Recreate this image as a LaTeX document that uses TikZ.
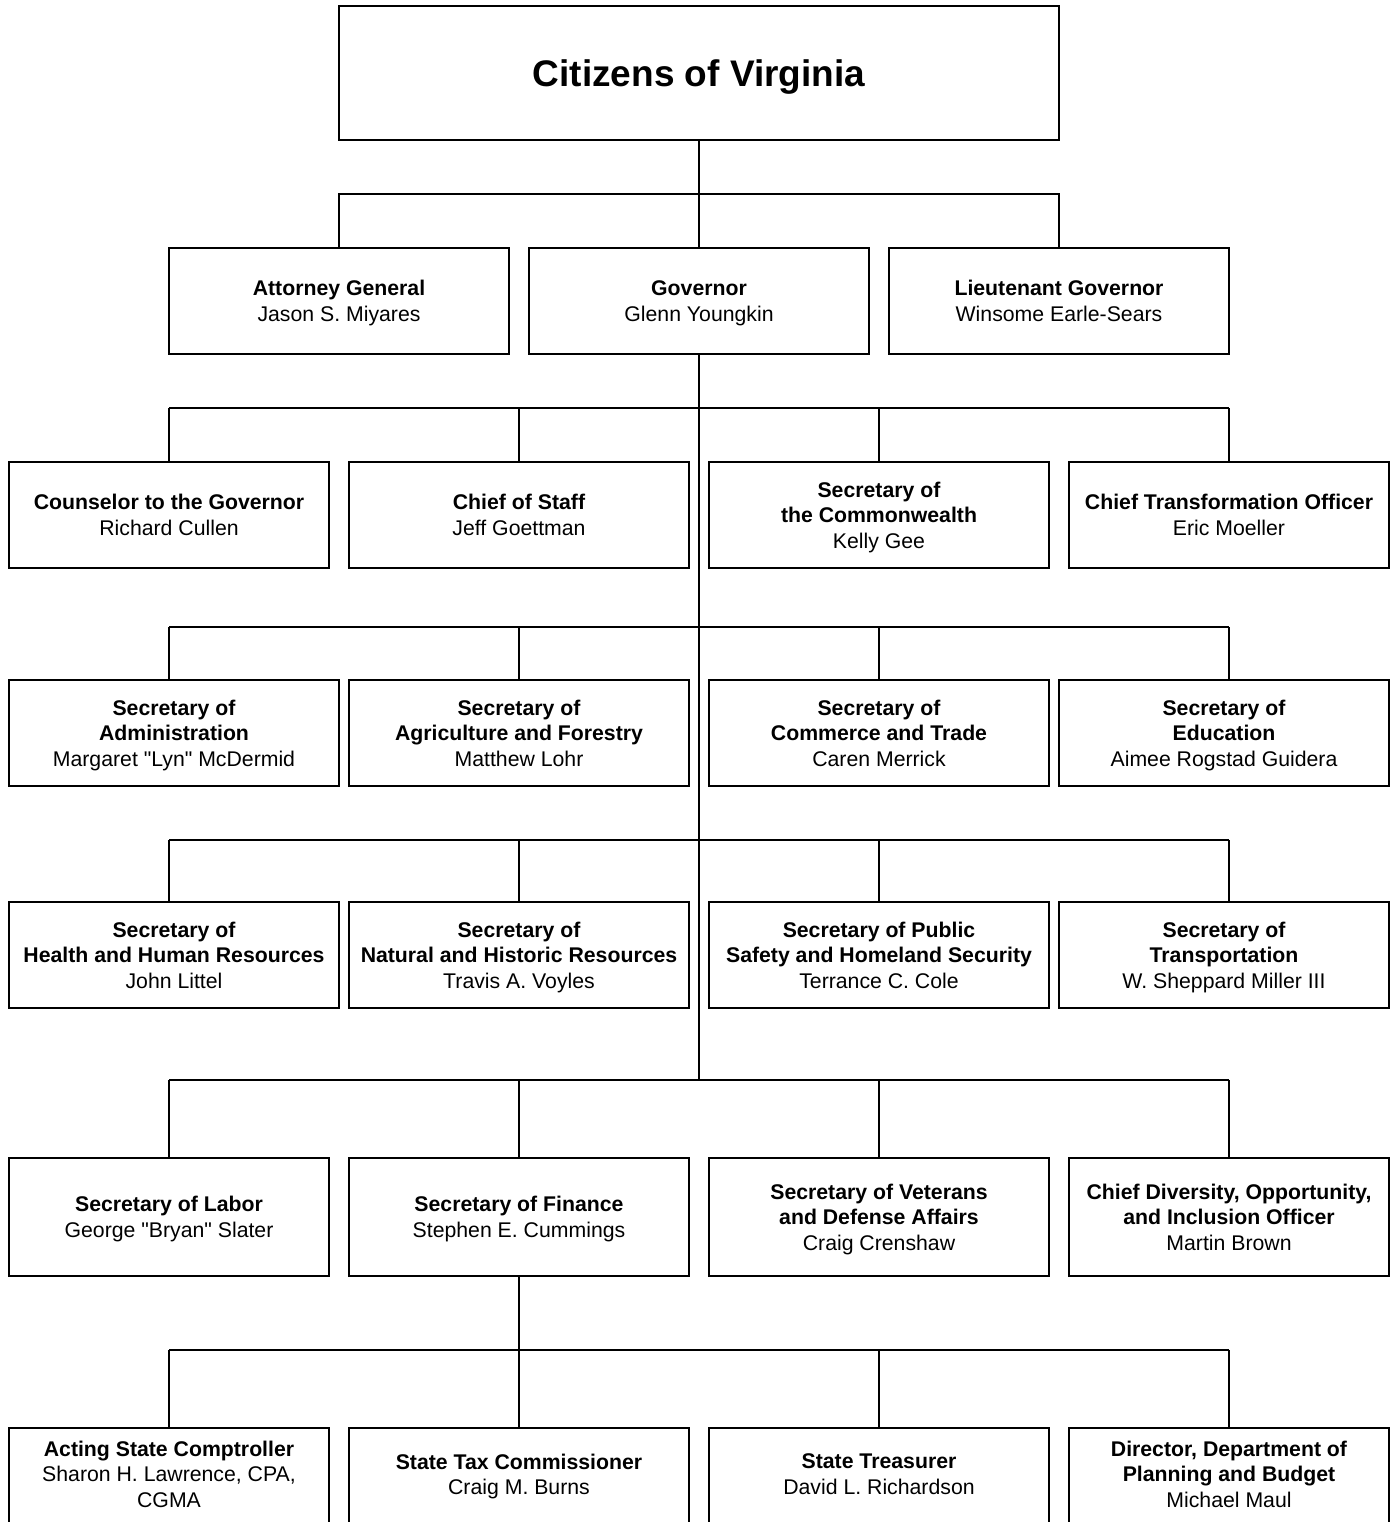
\documentclass[tikz,border=0pt]{standalone}
\usepackage{fontspec}
\setmainfont{Liberation Sans}

\newcommand{\tb}[1]{\textbf{#1}}
\newcommand{\qq}{\textquotedbl}

\begin{document}
\begin{tikzpicture}[x=1pt, y=-1pt, line width=2.6pt,
  box/.style = {draw, rectangle, inner sep=0pt, minimum height=106pt, align=center,
    font=\fontsize{21.25}{25.5}\selectfont, text depth=-2.5pt},
  tall/.style = {box, minimum height=118pt},
  topbox/.style = {draw, rectangle, inner sep=0pt, minimum width=720pt, minimum height=134pt,
    font=\fontsize{37}{44}\selectfont\bfseries,
    execute at begin node=\rule{0pt}{35.4pt}}]
\clip (0,0) rectangle (1395,1522);
\fill[white] (0,0) rectangle (1395,1522);

% citizens and elected officers
\node[topbox] (cit) at (699,73) {Citizens of Virginia};
\node[box, minimum width=340pt] (ag) at (339,301) {\tb{Attorney General}\\Jason S. Miyares};
\node[box, minimum width=340pt] (gov) at (699,301) {\tb{Governor}\\Glenn Youngkin};
\node[box, minimum width=340pt] (lg) at (1059,301) {\tb{Lieutenant Governor}\\Winsome Earle-Sears};

% governor's office
\node[box, minimum width=320pt] (cou) at (169,515) {\tb{Counselor to the Governor}\\Richard Cullen};
\node[box, minimum width=340pt] (cos) at (519,515) {\tb{Chief of Staff}\\Jeff Goettman};
\node[box, minimum width=340pt] (com) at (879,515) {\tb{Secretary of}\\\tb{the Commonwealth}\\Kelly Gee};
\node[box, minimum width=320pt] (cto) at (1229,515) {\tb{Chief Transformation Officer}\\Eric Moeller};

% secretaries
\node[box, minimum width=330pt] (adm) at (174,733) {\tb{Secretary of}\\\tb{Administration}\\Margaret \qq Lyn\qq{} McDermid};
\node[box, minimum width=340pt] (agr) at (519,733) {\tb{Secretary of}\\\tb{Agriculture and Forestry}\\Matthew Lohr};
\node[box, minimum width=340pt] (cmt) at (879,733) {\tb{Secretary of}\\\tb{Commerce and Trade}\\Caren Merrick};
\node[box, minimum width=330pt] (edu) at (1224,733) {\tb{Secretary of}\\\tb{Education}\\Aimee Rogstad Guidera};

\node[box, minimum width=330pt] (hhr) at (174,955) {\tb{Secretary of}\\\tb{Health and Human Resources}\\John Littel};
\node[box, minimum width=340pt] (nhr) at (519,955) {\tb{Secretary of}\\\tb{Natural and Historic Resources}\\Travis A. Voyles};
\node[box, minimum width=340pt] (pss) at (879,955) {\tb{Secretary of Public}\\\tb{Safety and Homeland Security}\\Terrance C. Cole};
\node[box, minimum width=330pt] (trn) at (1224,955) {\tb{Secretary of}\\\tb{Transportation}\\W. Sheppard Miller III};

\node[tall, minimum width=320pt] (lab) at (169,1217) {\tb{Secretary of Labor}\\George \qq Bryan\qq{} Slater};
\node[tall, minimum width=340pt] (fin) at (519,1217) {\tb{Secretary of Finance}\\Stephen E. Cummings};
\node[tall, minimum width=340pt] (vet) at (879,1217) {\tb{Secretary of Veterans}\\\tb{and Defense Affairs}\\Craig Crenshaw};
\node[tall, minimum width=320pt] (cdo) at (1229,1217) {\tb{Chief Diversity, Opportunity,}\\\tb{and Inclusion Officer}\\Martin Brown};

% finance agencies
\node[tall, minimum width=320pt] (cmp) at (169,1487) {\tb{Acting State Comptroller}\\Sharon H. Lawrence, CPA,\\CGMA\\~};
\node[tall, minimum width=340pt] (tax) at (519,1487) {\tb{State Tax Commissioner}\\Craig M. Burns\\~};
\node[tall, minimum width=340pt] (tre) at (879,1487) {\tb{State Treasurer}\\David L. Richardson\\~};
\node[tall, minimum width=320pt] (dpb) at (1229,1487) {\tb{Director, Department of}\\\tb{Planning and Budget}\\Michael Maul\\~};

% connectors
\coordinate (b1) at (699,194);
\draw (cit.south) -- (b1);
\draw (ag.north) |- (b1) -| (lg.north);
\draw (gov.north) -- (b1);
\draw (gov.south) -- (699,1080);
\draw (fin.south) -- (519,1350);
\foreach \y/\a/\b/\c/\d in {408/cou/cos/com/cto, 627/adm/agr/cmt/edu,
    840/hhr/nhr/pss/trn, 1080/lab/fin/vet/cdo, 1350/cmp/tax/tre/dpb} {
  \draw (169,\y) -- (1229,\y);
  \draw (169,\y) -- (169,\y |- \a.north);
  \draw (519,\y) -- (519,\y |- \b.north);
  \draw (879,\y) -- (879,\y |- \c.north);
  \draw (1229,\y) -- (1229,\y |- \d.north);
}
\end{tikzpicture}
\end{document}
